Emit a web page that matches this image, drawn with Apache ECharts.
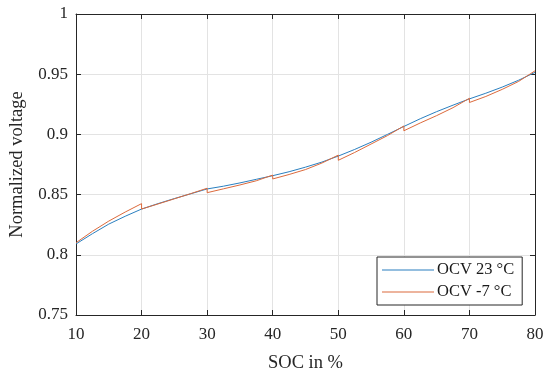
<!DOCTYPE html>
<html>
<head>
<meta charset="utf-8">
<script src="https://cdn.jsdelivr.net/npm/echarts@6/dist/echarts.min.js"></script>
<style>
html,body{margin:0;padding:0;background:#fff;}
#chart{width:550px;height:378px;}
</style>
</head>
<body>
<div id="chart"></div>
<script>
var seriesNames = ['OCV 23 °C', 'OCV -7 °C'];
var xTicks = [10, 20, 30, 40, 50, 60, 70, 80];
var yTicks = [0.75, 0.8, 0.85, 0.9, 0.95, 1];

var socWarm = [10, 12.5, 15, 17.5, 20, 22.5, 25, 27.5, 30, 32.5, 35, 37.5, 40, 42.5, 45, 47.5, 50, 52.5, 55, 57.5, 60, 62.5, 65, 67.5, 70, 72.5, 75, 77.5, 80];
var ocvWarm = [0.809, 0.8175, 0.8255, 0.832, 0.838, 0.8425, 0.8467, 0.8507, 0.8547, 0.857, 0.8597, 0.8627, 0.8657, 0.869, 0.8728, 0.877, 0.882, 0.8875, 0.8935, 0.9, 0.9066, 0.913, 0.9189, 0.9243, 0.9295, 0.9342, 0.9393, 0.945, 0.9515];

var socCold = [10, 12.5, 15, 17.5, 20, 20, 22.5, 25, 27.5, 30, 30, 32.5, 35, 37.5, 40, 40, 42.5, 45, 47.5, 50, 50, 52.5, 55, 57.5, 60, 60, 62.5, 65, 67.5, 70, 70, 72.5, 75, 77.5, 80];
var ocvCold = [0.810, 0.8195, 0.828, 0.8355, 0.8425, 0.838, 0.8422, 0.8465, 0.8508, 0.8553, 0.8516, 0.8548, 0.858, 0.8615, 0.8662, 0.863, 0.8667, 0.8708, 0.8762, 0.8828, 0.8785, 0.885, 0.892, 0.899, 0.907, 0.903, 0.9095, 0.9156, 0.9222, 0.930, 0.9265, 0.9315, 0.9374, 0.944, 0.9528];

function pairs(xs, ys) { return xs.map(function (x, i) { return [x, ys[i]]; }); }

var font = 'Liberation Serif';
var axisColor = '#262626';
var gridColor = '#e3e3e3';

var chart = echarts.init(document.getElementById('chart'));
var baseX = {
  type: 'value', min: xTicks[0], max: xTicks[xTicks.length - 1], interval: 10
};
var baseY = {
  type: 'value', min: yTicks[0], max: yTicks[yTicks.length - 1], interval: 0.05
};
chart.setOption({
  animation: false,
  backgroundColor: '#ffffff',
  grid: { left: 72, right: 15, top: 14, bottom: 58, show: false },
  legend: {
    data: seriesNames,
    orient: 'vertical',
    left: 377, top: 257,
    width: 144,
    backgroundColor: '#ffffff',
    borderColor: axisColor,
    borderWidth: 1,
    borderRadius: 0,
    padding: [4, 8, 4, 5],
    itemGap: 4,
    itemWidth: 52,
    itemHeight: 1.2,
    icon: 'rect',
    textStyle: { fontFamily: font, fontSize: 16.5, color: '#1a1a1a', lineHeight: 18, padding: [0, 0, 0, -2] }
  },
  xAxis: [
    Object.assign({}, baseX, {
      position: 'bottom',
      name: 'SOC in %', nameLocation: 'middle', nameGap: 39,
      nameTextStyle: { fontFamily: font, fontSize: 18.5, color: '#262626' },
      axisLine: { show: true, onZero: false, lineStyle: { color: axisColor, width: 1 } },
      axisTick: { show: true, inside: true, length: 5, lineStyle: { color: axisColor } },
      axisLabel: { fontFamily: font, fontSize: 17, color: '#262626', margin: 11 },
      splitLine: { show: true, lineStyle: { color: gridColor, width: 1 } }
    }),
    Object.assign({}, baseX, {
      position: 'top',
      axisLine: { show: true, onZero: false, lineStyle: { color: axisColor, width: 1 } },
      axisTick: { show: true, inside: true, length: 5, lineStyle: { color: axisColor } },
      axisLabel: { show: false },
      splitLine: { show: false }
    })
  ],
  yAxis: [
    Object.assign({}, baseY, {
      position: 'left',
      name: 'Normalized voltage', nameLocation: 'middle', nameGap: 49,
      nameTextStyle: { fontFamily: font, fontSize: 18.5, color: '#262626' },
      axisLine: { show: true, onZero: false, lineStyle: { color: axisColor, width: 1 } },
      axisTick: { show: true, inside: true, length: 5, lineStyle: { color: axisColor } },
      axisLabel: {
        fontFamily: font, fontSize: 17, color: '#262626', margin: 8,
        formatter: function (v) { return String(parseFloat(v.toFixed(2))); }
      },
      splitLine: { show: true, lineStyle: { color: gridColor, width: 1 } }
    }),
    Object.assign({}, baseY, {
      position: 'right',
      axisLine: { show: true, onZero: false, lineStyle: { color: axisColor, width: 1 } },
      axisTick: { show: true, inside: true, length: 5, lineStyle: { color: axisColor } },
      axisLabel: { show: false },
      splitLine: { show: false }
    })
  ],
  series: [
    {
      name: seriesNames[0], type: 'line', xAxisIndex: 0, yAxisIndex: 0,
      data: pairs(socWarm, ocvWarm), showSymbol: false, symbol: 'none',
      lineStyle: { color: '#2a7fc0', width: 1 }, itemStyle: { color: '#2a7fc0' }, z: 3
    },
    {
      name: seriesNames[1], type: 'line', xAxisIndex: 0, yAxisIndex: 0,
      data: pairs(socCold, ocvCold), showSymbol: false, symbol: 'none',
      lineStyle: { color: '#dc6a3c', width: 1 }, itemStyle: { color: '#dc6a3c' }, z: 4
    }
  ]
});
</script>
</body>
</html>
